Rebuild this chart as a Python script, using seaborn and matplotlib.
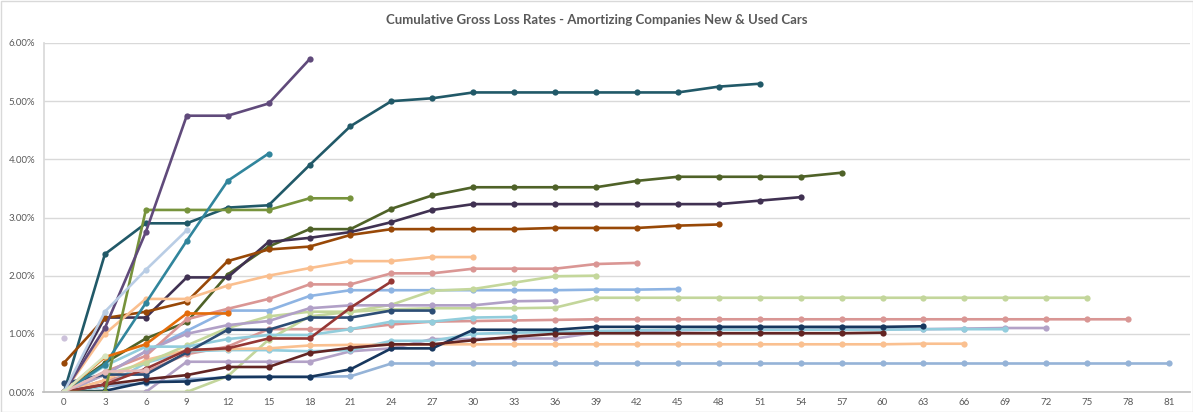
import matplotlib
matplotlib.use("Agg")
import matplotlib.pyplot as plt
import seaborn as sns
import pandas as pd
from matplotlib.ticker import FuncFormatter, MultipleLocator
from matplotlib.patches import Rectangle

# ---------------- data (cumulative gross loss rate, %) ----------------
months = [0, 3, 6, 9, 12, 15, 18, 21, 24, 27, 30, 33, 36, 39, 42, 45, 48, 51, 54,
          57, 60, 63, 66, 69, 72, 75, 78, 81]

s81 = [0.00, 0.10, 0.15, 0.22, 0.25, 0.26, 0.26, 0.27, 0.49, 0.49, 0.49, 0.49, 0.49, 0.49,
       0.49, 0.49, 0.49, 0.49, 0.49, 0.49, 0.49, 0.49, 0.49, 0.49, 0.49, 0.49, 0.49, 0.49]
s78 = [0.00, 0.20, 0.35, 0.65, 0.78, 1.08, 1.08, 1.08, 1.16, 1.21, 1.22, 1.23, 1.24, 1.25,
       1.25, 1.25, 1.25, 1.25, 1.25, 1.25, 1.25, 1.25, 1.25, 1.25, 1.25, 1.25, 1.25]
s75 = [0.00, 0.00, 0.00, 0.00, 0.27, 0.90, 1.30, 1.38, 1.42, 1.44, 1.44, 1.44, 1.45, 1.62,
       1.62, 1.62, 1.62, 1.62, 1.62, 1.62, 1.62, 1.62, 1.62, 1.62, 1.62, 1.62]
s72 = [0.00, 0.00, 0.00, 0.52, 0.52, 0.52, 0.52, 0.70, 0.75, 0.91, 0.91, 0.92, 0.92, 1.02,
       1.05, 1.06, 1.07, 1.07, 1.07, 1.08, 1.08, 1.08, 1.09, 1.10, 1.10]
s69 = [0.00, 0.10, 0.50, 0.70, 0.72, 0.72, 0.70, 0.72, 0.88, 0.88, 1.00, 1.02, 1.03, 1.05,
       1.06, 1.07, 1.07, 1.07, 1.07, 1.07, 1.07, 1.08, 1.08, 1.08]
s66 = [0.00, 0.20, 0.55, 0.72, 0.74, 0.75, 0.80, 0.81, 0.81, 0.82, 0.82, 0.82, 0.82, 0.82,
       0.82, 0.82, 0.82, 0.82, 0.82, 0.82, 0.82, 0.83, 0.83]
s63 = [0.00, 0.02, 0.17, 0.18, 0.26, 0.26, 0.26, 0.39, 0.75, 0.75, 1.07, 1.07, 1.07, 1.12,
       1.12, 1.12, 1.12, 1.12, 1.12, 1.12, 1.12, 1.13]
s60 = [0.00, 0.13, 0.22, 0.29, 0.43, 0.43, 0.67, 0.76, 0.82, 0.82, 0.89, 0.95, 1.00, 1.01,
       1.01, 1.01, 1.01, 1.01, 1.01, 1.01, 1.02]
s57 = [0.00, 0.50, 0.92, 1.20, 2.02, 2.50, 2.80, 2.80, 3.15, 3.38, 3.52, 3.52, 3.52, 3.52,
       3.63, 3.70, 3.70, 3.70, 3.70, 3.77]
s54 = [0.00, 1.28, 1.28, 1.97, 1.97, 2.58, 2.65, 2.75, 2.92, 3.13, 3.23, 3.23, 3.23, 3.23,
       3.23, 3.23, 3.23, 3.29, 3.35]
s51 = [0.00, 2.37, 2.90, 2.90, 3.17, 3.21, 3.90, 4.57, 5.00, 5.05, 5.15, 5.15, 5.15, 5.15,
       5.15, 5.15, 5.25, 5.30]
s48 = [0.50, 1.27, 1.38, 1.55, 2.25, 2.45, 2.50, 2.70, 2.80, 2.80, 2.80, 2.80, 2.82, 2.82,
       2.82, 2.86, 2.88]
s45 = [0.00, 0.30, 0.70, 1.05, 1.40, 1.40, 1.65, 1.75, 1.75, 1.75, 1.75, 1.75, 1.75, 1.76,
       1.76, 1.77]
s42 = [0.00, 0.35, 0.62, 1.25, 1.43, 1.60, 1.85, 1.85, 2.04, 2.04, 2.12, 2.12, 2.12, 2.20, 2.22]
s39 = [0.00, 0.30, 0.50, 0.80, 1.10, 1.30, 1.38, 1.38, 1.50, 1.74, 1.77, 1.88, 1.99, 2.00]
s36 = [0.00, 0.30, 0.70, 1.00, 1.15, 1.22, 1.44, 1.49, 1.49, 1.49, 1.49, 1.56, 1.57]
s33 = [0.00, 0.45, 0.78, 0.78, 0.91, 0.98, 0.98, 1.08, 1.21, 1.21, 1.28, 1.29]
s30 = [0.00, 1.00, 1.60, 1.60, 1.83, 2.00, 2.13, 2.25, 2.25, 2.32, 2.32]
s27 = [0.15, 0.30, 0.30, 0.68, 1.07, 1.07, 1.28, 1.28, 1.40, 1.40]
s24 = [0.00, 0.13, 0.40, 0.72, 0.75, 0.92, 0.92, 1.45, 1.90]
s21 = [0.00, 0.00, 3.13, 3.13, 3.13, 3.13, 3.33, 3.33]
s18 = [0.00, 1.10, 2.75, 4.75, 4.75, 4.96, 5.72]
s15 = [0.00, 0.47, 1.53, 2.60, 3.63, 4.10]
s12 = [0.00, 0.60, 0.82, 1.35, 1.35]
s9 = [0.00, 1.38, 2.10, 2.78]
s6 = [0.00, 0.35, 0.37]
s3 = [0.00, 0.62]
s0 = [0.93]

series = {"S81": s81, "S78": s78, "S75": s75, "S72": s72, "S69": s69, "S66": s66,
          "S63": s63, "S60": s60, "S57": s57, "S54": s54, "S51": s51, "S48": s48,
          "S45": s45, "S42": s42, "S39": s39, "S36": s36, "S33": s33, "S30": s30,
          "S27": s27, "S24": s24, "S21": s21, "S18": s18, "S15": s15, "S12": s12,
          "S9": s9, "S6": s6, "S3": s3, "S0": s0}

colors = ["#95B3D7", "#D99694", "#C3D69B", "#B3A2C7", "#93CDDD", "#FAC090",
          "#17375E", "#632523", "#4F6228", "#403152", "#215968", "#984807",
          "#8EB4E3", "#DA9694", "#C4D79B", "#B1A0C7", "#92CDDC", "#FABF8F",
          "#2C4D75", "#953735", "#77933C", "#604A7B", "#31859C", "#E46C0A",
          "#B9CDE5", "#E6B9B8", "#D7E4BD", "#CCC1DA"]

rows = []
for name, vals in series.items():
    for m, v in zip(months, vals):
        rows.append({"cohort": name, "month": m, "rate": v})
df = pd.DataFrame(rows)
palette = dict(zip(series.keys(), colors))

# ---------------- plot ----------------
sns.set_theme(style="white")
plt.rcParams["font.family"] = ["Lato", "DejaVu Sans"]

fig = plt.figure(figsize=(11.93, 4.12), dpi=100)
ax = fig.add_axes([43.5 / 1193, 20 / 412, 1146 / 1193, 349 / 412])

sns.lineplot(data=df, x="month", y="rate", hue="cohort", palette=palette,
             hue_order=list(series.keys()), marker="o", markersize=4.5,
             markeredgewidth=0, linewidth=1.9, legend=False, sort=False, ax=ax)

ax.set_xlim(-1.5, 82.5)
ax.set_ylim(0, 6)
ax.set_xticks(months)
ax.set_xticklabels([str(m) for m in months])
ax.yaxis.set_major_locator(MultipleLocator(1))
ax.yaxis.set_major_formatter(FuncFormatter(lambda v, p: f"{v:.2f}%"))
ax.grid(axis="y", color="#D9D9D9", linewidth=1)
ax.set_axisbelow(True)
ax.set_xlabel("")
ax.set_ylabel("")
for s in ["top", "right"]:
    ax.spines[s].set_visible(False)
ax.spines["left"].set_color("#D9D9D9")
ax.spines["bottom"].set_color("#BFBFBF")
ax.tick_params(axis="both", length=0, labelsize=7, labelcolor="#595959", pad=4)
ax.tick_params(axis="y", pad=6)

fig.text(0.5, 1 - 20 / 412, "Cumulative Gross Loss Rates - Amortizing Companies New & Used Cars",
         ha="center", va="center", fontsize=9.5, fontweight="bold", color="#595959")

fig.patches.append(Rectangle((0.5 / 1193, 0.5 / 412), 1 - 1 / 1193, 1 - 1 / 412,
                             transform=fig.transFigure, fill=False,
                             edgecolor="#D9D9D9", linewidth=1))

fig.savefig("out.png", dpi=100)
